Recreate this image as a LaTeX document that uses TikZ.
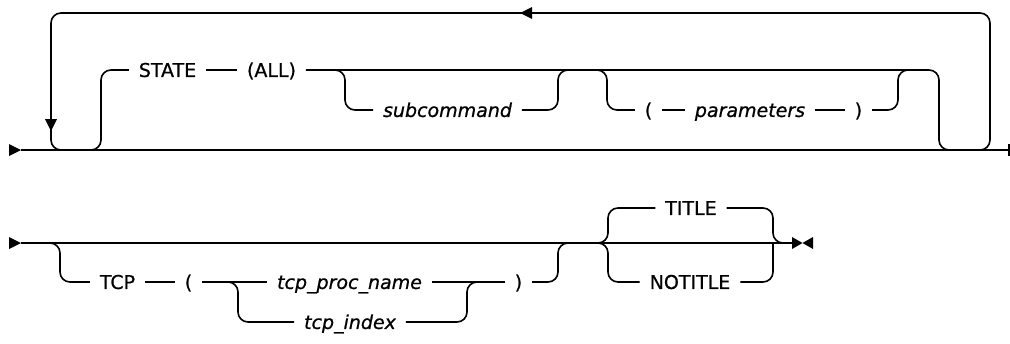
\documentclass[tikz,border=0pt]{standalone}
\usepackage{fontspec}
\setmainfont{DejaVu Sans}[FakeBold=0.8]
\usetikzlibrary{arrows.meta}

\begin{document}
\begin{tikzpicture}[x=1pt,y=-1pt,line width=1.6pt,
    kw/.style={inner xsep=10pt,inner ysep=0pt,outer sep=0pt,
      text height=13.9pt,text depth=0pt,font=\fontsize{19}{22}\selectfont},
    var/.style={kw,font=\fontsize{19}{22}\selectfont\itshape},
    rail/.style={rounded corners=10pt}]
    \useasboundingbox (0,0) rectangle (1010,343);

    % 上图：主线
    \coordinate (in) at (21,150);
    \coordinate (out) at (1009,150);
    \fill (in) -- ++(-12,-6) -- ++(0,12) -- cycle;
    \draw (in) -- (out);
    \draw[line width=1.2pt] (out) ++(0,-6) -- ++(0,12);

    % 重复回路
    \coordinate (rA) at (970,150);
    \coordinate (rB) at (990,13);
    \coordinate (rC) at (51,150);
    \coordinate (rD) at (70,150);
    \draw[rail] (rA) -| (rB) -| (rC) -- (rD);
    \coordinate (ar1) at (520,13);
    \fill (ar1) -- ++(12,-6) -- ++(0,12) -- cycle;
    \coordinate (ar2) at (51,131);
    \fill (ar2) -- ++(-6,-12) -- ++(12,0) -- cycle;

    \node[kw] (state) at (167.5,70) {STATE};
    \node[kw] (all) at (271.5,70) {(ALL)};
    \node[var] (sub) at (447.5,110) {subcommand};
    \node[kw] (lp) at (648.5,110) {(};
    \node[var] (par) at (750,110) {parameters};
    \node[kw] (rp) at (858.5,110) {)};

    \coordinate (gA) at (88,150);
    \coordinate (gB) at (101,70);
    \coordinate (gC) at (939,150);
    \coordinate (gD) at (952,150);
    \draw[rail] (gA) -| (gB) -- (state.west);
    \draw (state.east) -- (all.west);
    \draw[rail] (all.east) -| (gC) -- (gD);

    \coordinate (sA) at (333,70);
    \coordinate (sB) at (345,110);
    \coordinate (sC) at (558,70);
    \coordinate (sD) at (570,70);
    \draw[rail] (sA) -| (sB) -- (sub.west);
    \draw[rail] (sub.east) -| (sC) -- (sD);

    \coordinate (pA) at (595,70);
    \coordinate (pB) at (607,110);
    \coordinate (pC) at (898,70);
    \coordinate (pD) at (910,70);
    \draw[rail] (pA) -| (pB) -- (lp.west);
    \draw (lp.east) -- (par.west);
    \draw (par.east) -- (rp.west);
    \draw[rail] (rp.east) -| (pC) -- (pD);

    % 下图
    \coordinate (in2) at (21,243);
    \coordinate (out2) at (792,243);
    \fill (in2) -- ++(-12,-6) -- ++(0,12) -- cycle;
    \draw (in2) -- (out2);
    \fill (out2) ++(0,-6) -- ++(10.5,6) -- ++(-10.5,6) -- cycle;
    \fill (out2) ++(21,-6) -- ++(-10.5,6) -- ++(10.5,6) -- cycle;

    \node[kw] (tcp) at (117.5,282) {TCP};
    \node[kw] (lpb) at (188.5,282) {(};
    \node[var] (proc) at (349.5,282) {tcp\_proc\_name};
    \node[var] (idx) at (350,322) {tcp\_index};
    \node[kw] (rpb) at (518.5,282) {)};
    \node[kw] (title) at (691,208) {TITLE};
    \node[kw] (notitle) at (690,282) {NOTITLE};

    \coordinate (tA) at (48,243);
    \coordinate (tB) at (60,282);
    \coordinate (tC) at (558,243);
    \coordinate (tD) at (570,243);
    \draw[rail] (tA) -| (tB) -- (tcp.west);
    \draw (tcp.east) -- (lpb.west);
    \draw (lpb.east) -- (proc.west);
    \draw (proc.east) -- (rpb.west);
    \draw[rail] (rpb.east) -| (tC) -- (tD);

    \coordinate (iA) at (226,282);
    \coordinate (iB) at (238,322);
    \coordinate (iC) at (467,282);
    \coordinate (iD) at (479,282);
    \draw[rail] (iA) -| (iB) -- (idx.west);
    \draw[rail] (idx.east) -| (iC) -- (iD);

    \coordinate (cA) at (595,243);
    \coordinate (cB) at (608,208);
    \coordinate (cC) at (608,282);
    \coordinate (cD) at (773,243);
    \coordinate (cE) at (786,243);
    \draw[rail] (cA) -| (cB) -- (title.west);
    \draw[rail] (cA) -| (cC) -- (notitle.west);
    \draw[rail] (title.east) -| (cD) -- (cE);
    \draw[rail] (notitle.east) -| (cD);
\end{tikzpicture}
\end{document}
